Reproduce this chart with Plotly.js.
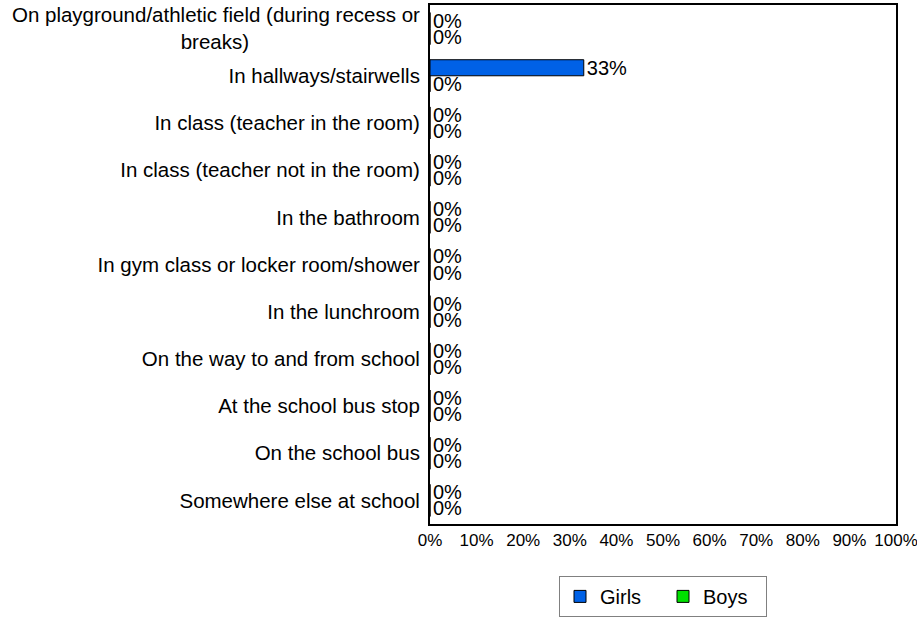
<!DOCTYPE html>
<html>
<head>
<meta charset="utf-8">
<script src="https://cdn.plot.ly/plotly-3.0.1.min.js"></script>
<style>
  html, body { margin: 0; padding: 0; background: #fff; }
  #chart { width: 917px; height: 622px; }
</style>
</head>
<body>
<div id="chart"></div>
<script>
const categories = [
  "On playground/athletic field (during recess or<br>breaks)",
  "In hallways/stairwells",
  "In class (teacher in the room)",
  "In class (teacher not in the room)",
  "In the bathroom",
  "In gym class or locker room/shower",
  "In the lunchroom",
  "On the way to and from school",
  "At the school bus stop",
  "On the school bus",
  "Somewhere else at school"
];
const girls = [0, 33, 0, 0, 0, 0, 0, 0, 0, 0, 0];
const boys  = [0, 0, 0, 0, 0, 0, 0, 0, 0, 0, 0];
const xTickVals = [0, 10, 20, 30, 40, 50, 60, 70, 80, 90, 100];
const xTickText = ["0%", "10%", "20%", "30%", "40%", "50%", "60%", "70%", "80%", "90%", "100%"];

const FONT = '"Liberation Sans", Arial, sans-serif';
const LABEL_SIZE = 20.5;

// Center shorter lines of multi-line tick labels (tick labels are right-anchored)
const ctx = document.createElement('canvas').getContext('2d');
ctx.font = LABEL_SIZE + 'px "Liberation Sans", Arial, sans-serif';
const nbspW = ctx.measureText('\u00a0').width || LABEL_SIZE * 0.278;
function centerLines(label) {
  const lines = label.split('<br>');
  if (lines.length < 2) return label;
  const widths = lines.map(l => ctx.measureText(l).width);
  const maxW = Math.max(...widths);
  return lines.map((l, i) => {
    const n = Math.round((maxW - widths[i]) / 2 / nbspW);
    return l + '\u00a0'.repeat(n);
  }).join('<br>');
}
const tickText = categories.map(centerLines);

const traces = [
  {
    type: 'bar', orientation: 'h', name: 'Girls',
    y: categories, x: girls,
    text: girls.map(v => v + '%'), textposition: 'outside',
    textfont: {family: FONT, size: 20, color: '#000'},
    constraintext: 'none', cliponaxis: false,
    marker: {color: '#0061E6', line: {color: '#000', width: 1}},
    hoverinfo: 'none'
  },
  {
    type: 'bar', orientation: 'h', name: 'Boys',
    y: categories, x: boys,
    text: boys.map(v => v + '%'), textposition: 'outside',
    textfont: {family: FONT, size: 20, color: '#000'},
    constraintext: 'none', cliponaxis: false,
    marker: {color: '#00E000', line: {color: '#000', width: 1}},
    hoverinfo: 'none'
  }
];

const layout = {
  width: 917, height: 622,
  margin: {l: 430, r: 21, t: 5, b: 98},
  paper_bgcolor: '#fff', plot_bgcolor: '#fff',
  font: {family: FONT, size: 20, color: '#000'},
  barmode: 'group', bargap: 0.32, bargroupgap: 0,
  showlegend: true,
  legend: {
    orientation: 'h', x: 0.5, xanchor: 'center', y: -0.1, yanchor: 'top',
    bordercolor: '#808080', borderwidth: 1, bgcolor: '#fff',
    font: {family: FONT, size: 20, color: '#000'},
    traceorder: 'normal',
    entrywidth: 58, entrywidthmode: 'pixels'
  },
  xaxis: {
    range: [0, 100], tickvals: xTickVals, ticktext: xTickText,
    showgrid: false, zeroline: false, ticks: '',
    showline: true, linecolor: '#000', linewidth: 2, mirror: true,
    tickfont: {family: FONT, size: 17, color: '#000'},
    ticklabeloverflow: 'allow',
    fixedrange: true
  },
  yaxis: {
    type: 'category', autorange: 'reversed',
    tickvals: categories, ticktext: tickText,
    showgrid: false, zeroline: false, ticks: '',
    showline: true, linecolor: '#000', linewidth: 2, mirror: true,
    tickfont: {family: FONT, size: LABEL_SIZE, color: '#000'},
    ticklabelstandoff: 4,
    fixedrange: true
  }
};

Plotly.newPlot('chart', traces, layout, {displayModeBar: false, staticPlot: true});
</script>
</body>
</html>
